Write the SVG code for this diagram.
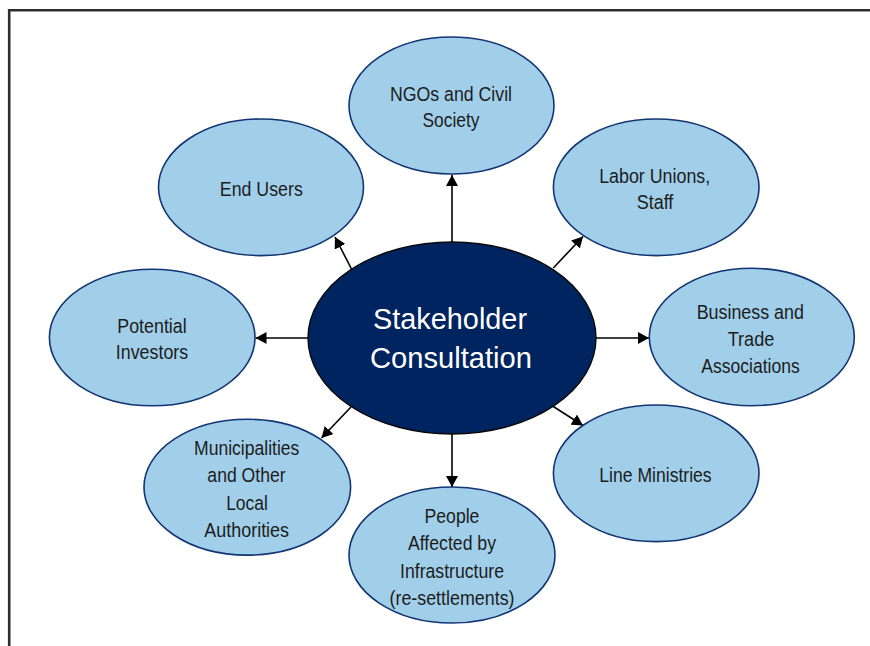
<svg xmlns="http://www.w3.org/2000/svg" width="870" height="646" viewBox="0 0 870 646">
<style>
.node{fill:#a1cfea;stroke:#123574;stroke-width:1.6}
.hub{fill:#00245f;stroke:#0a0a0a;stroke-width:1.4}
.lbl{font-family:"Liberation Sans",Arial,sans-serif;font-size:20.5px;fill:#1c1c1c;text-anchor:middle}
.hubl{font-family:"Liberation Sans",Arial,sans-serif;font-size:30px;fill:#ffffff;text-anchor:middle}
.con{stroke:#000;stroke-width:1.6;fill:none;marker-end:url(#ah)}
</style>
<defs>
<marker id="ah" viewBox="0 0 11 12" refX="11" refY="6" markerWidth="11" markerHeight="12" orient="auto" markerUnits="userSpaceOnUse">
<path d="M0,0 L11,6 L0,12 z" fill="#000"/>
</marker>
</defs>
<rect width="870" height="646" fill="#fff"/>
<path d="M9.2,646 V10.3 H870" fill="none" stroke="#2e2e2e" stroke-width="2.6"/>
<g id="connectors">
<line class="con" x1="452" y1="242" x2="452" y2="175"/>
<line class="con" x1="452" y1="434" x2="452" y2="487"/>
<line class="con" x1="308" y1="338" x2="255.5" y2="338"/>
<line class="con" x1="596" y1="338" x2="649" y2="338"/>
<line class="con" x1="351.5" y1="269" x2="335" y2="237"/>
<line class="con" x1="553.3" y1="268" x2="583" y2="236.5"/>
<line class="con" x1="351" y1="407" x2="321.5" y2="438"/>
<line class="con" x1="553.3" y1="406.5" x2="583" y2="425.5"/>
</g>
<g id="hub">
<ellipse class="hub" cx="452" cy="338" rx="144" ry="96"/>
<text class="hubl" x="450" y="329.3" textLength="154" lengthAdjust="spacingAndGlyphs">Stakeholder</text>
<text class="hubl" x="451" y="368.3" textLength="162" lengthAdjust="spacingAndGlyphs">Consultation</text>
</g>
<g id="ngos">
<ellipse class="node" cx="451.5" cy="105.5" rx="102.5" ry="68.5"/>
<text class="lbl" x="451" y="100.7" textLength="122" lengthAdjust="spacingAndGlyphs">NGOs and Civil</text>
<text class="lbl" x="451" y="127.3" textLength="57" lengthAdjust="spacingAndGlyphs">Society</text>
</g>
<g id="end-users">
<ellipse class="node" cx="261" cy="187.3" rx="102.5" ry="68.3"/>
<text class="lbl" x="261.3" y="196" textLength="83" lengthAdjust="spacingAndGlyphs">End Users</text>
</g>
<g id="labor-unions">
<ellipse class="node" cx="656.2" cy="187.3" rx="102.8" ry="68.3"/>
<text class="lbl" x="654.7" y="182.7" textLength="111" lengthAdjust="spacingAndGlyphs">Labor Unions,</text>
<text class="lbl" x="655" y="209.3" textLength="36.7" lengthAdjust="spacingAndGlyphs">Staff</text>
</g>
<g id="potential-investors">
<ellipse class="node" cx="152.2" cy="337.5" rx="102.8" ry="68.3"/>
<text class="lbl" x="152" y="332.7" textLength="69.3" lengthAdjust="spacingAndGlyphs">Potential</text>
<text class="lbl" x="152" y="359.3" textLength="72.3" lengthAdjust="spacingAndGlyphs">Investors</text>
</g>
<g id="business-trade">
<ellipse class="node" cx="751.8" cy="337" rx="102.5" ry="68.7"/>
<text class="lbl" x="750.3" y="319.3" textLength="107.3" lengthAdjust="spacingAndGlyphs">Business and</text>
<text class="lbl" x="751" y="346" textLength="46.7" lengthAdjust="spacingAndGlyphs">Trade</text>
<text class="lbl" x="750.5" y="372.7" textLength="98.3" lengthAdjust="spacingAndGlyphs">Associations</text>
</g>
<g id="municipalities">
<ellipse class="node" cx="247.3" cy="487.2" rx="103.3" ry="67.9"/>
<text class="lbl" x="246.7" y="455" textLength="105.3" lengthAdjust="spacingAndGlyphs">Municipalities</text>
<text class="lbl" x="246.5" y="481.7" textLength="78.3" lengthAdjust="spacingAndGlyphs">and Other</text>
<text class="lbl" x="247" y="510" textLength="41.7" lengthAdjust="spacingAndGlyphs">Local</text>
<text class="lbl" x="246.7" y="536.7" textLength="84.7" lengthAdjust="spacingAndGlyphs">Authorities</text>
</g>
<g id="people-affected">
<ellipse class="node" cx="452" cy="555" rx="103" ry="68"/>
<text class="lbl" x="452" y="523" textLength="54.8" lengthAdjust="spacingAndGlyphs">People</text>
<text class="lbl" x="452" y="550" textLength="88" lengthAdjust="spacingAndGlyphs">Affected by</text>
<text class="lbl" x="452" y="577.5" textLength="104" lengthAdjust="spacingAndGlyphs">Infrastructure</text>
<text class="lbl" x="452" y="604.5" textLength="125" lengthAdjust="spacingAndGlyphs">(re-settlements)</text>
</g>
<g id="line-ministries">
<ellipse class="node" cx="656.2" cy="473.3" rx="102.8" ry="68.3"/>
<text class="lbl" x="655.5" y="482.3" textLength="112.3" lengthAdjust="spacingAndGlyphs">Line Ministries</text>
</g>
</svg>
